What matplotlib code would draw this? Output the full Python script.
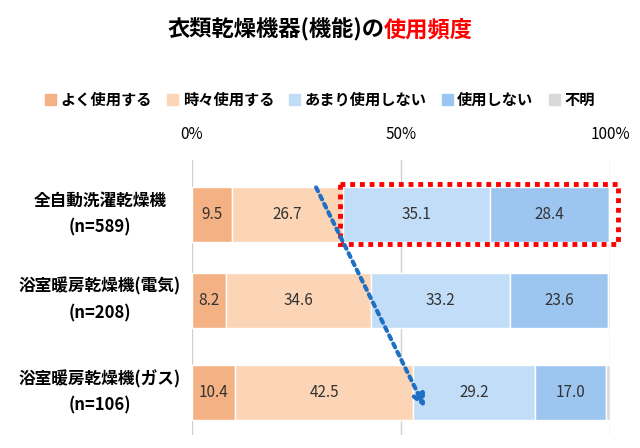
import matplotlib.pyplot as plt
from matplotlib.patches import Rectangle

plt.rcParams['font.family'] = 'Noto Sans CJK JP'

categories = ['全自動洗濯乾燥機\n(n=589)', '浴室暖房乾燥機(電気)\n(n=208)', '浴室暖房乾燥機(ガス)\n(n=106)']
series_names = ['よく使用する', '時々使用する', 'あまり使用しない', '使用しない', '不明']
values = [
    [9.5, 26.7, 35.1, 28.4, 0.3],
    [8.2, 34.6, 33.2, 23.6, 0.4],
    [10.4, 42.5, 29.2, 17.0, 0.9],
]
colors = ['#F4B183', '#FBD5B5', '#C2DDF7', '#9CC5F0', '#D9D9D9']
ticks = [0, 50, 100]
tick_labels = ['0%', '50%', '100%']

fig = plt.figure(figsize=(6.4, 4.48), dpi=100)
ax = fig.add_axes([192/640, 1-435/448, 418/640, 275/448])
ax.set_xlim(0, 100)
ax.set_ylim(435, 160)

ypos = [214.5, 300, 392]
for x in ticks:
    ax.axvline(x, color='#D0D0D0', lw=1, zorder=0)

for r, row in enumerate(values):
    left = 0
    for i, v in enumerate(row):
        ax.barh(ypos[r], v, left=left, height=55, color=colors[i], edgecolor='white', lw=1, zorder=2)
        if v >= 5:
            ax.text(left + v/2, ypos[r], f'{v:.1f}', ha='center', va='center', fontsize=11, color='#333333', zorder=3)
        left += v
    ax.text(-0.22, ypos[r], categories[r], transform=ax.get_yaxis_transform(), ha='center', va='center',
            fontsize=12, fontweight='bold', linespacing=1.6)

ax.xaxis.tick_top()
ax.set_xticks(ticks)
ax.set_xticklabels(tick_labels, fontsize=11)
ax.tick_params(axis='x', length=0, pad=12)
ax.set_yticks([])
for s in ax.spines.values():
    s.set_visible(False)

ax.add_patch(Rectangle((35.4, 184), 66.5, 60, fill=False, ec='#FF0000', lw=3.5, ls=(0, (1, 1)), clip_on=False, zorder=4))
ax.annotate('', xy=(56, 410), xytext=(29.4, 185),
            arrowprops=dict(arrowstyle='-|>', color='#1F6FC5', lw=3, ls=(0, (1, 1.2)), mutation_scale=18), zorder=5)

handles = [Rectangle((0, 0), 1, 1, color=c) for c in colors]
fig.legend(handles, series_names, loc='center', bbox_to_anchor=(0.5, 1-100/448), ncol=5, frameon=False,
           handlelength=0.7, handleheight=0.7, handletextpad=0.3, columnspacing=1.0,
           prop={'family': 'Noto Sans CJK JP', 'size': 11, 'weight': 'bold'})

fig.text(0.6, 1-30/448, '衣類乾燥機器(機能)の', ha='right', va='center', fontsize=16, fontweight='bold')
fig.text(0.6, 1-30/448, '使用頻度', ha='left', va='center', fontsize=16, fontweight='bold', color='#FF0000')

fig.savefig('out.png', dpi=100)
